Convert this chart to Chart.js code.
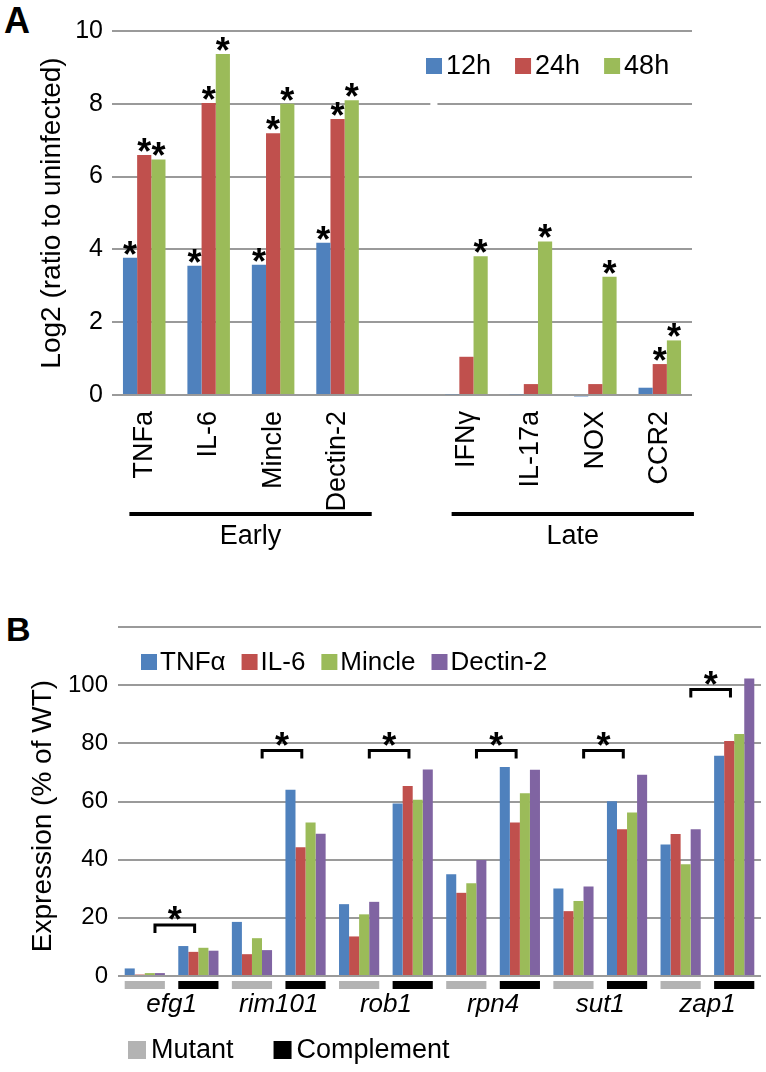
<!DOCTYPE html>
<html>
<head>
<meta charset="utf-8">
<script src="https://cdn.jsdelivr.net/npm/chart.js@4/dist/chart.umd.min.js"></script>
<style>
	body{margin:0;background:#fff;width:766px;height:1072px;position:relative;overflow:hidden;font-family:"Liberation Sans",Arial,sans-serif;}
	canvas{position:absolute;left:0;}
	#chartA{top:0;}
	#chartB{top:590px;}
	.letter{position:absolute;font-weight:bold;line-height:1;color:#000;}
</style>
</head>
<body>
<div class="letter" style="left:4px;top:3px;font-size:36px">A</div>
<div class="letter" style="left:6px;top:612px;font-size:34px">B</div>
<canvas id="chartA" width="766" height="565"></canvas>
<canvas id="chartB" width="766" height="482"></canvas>
<script>
const SANS = '"Liberation Sans", Arial, sans-serif';

// ---- panel A data
const genesA = ['TNFa', 'IL-6', 'Mincle', 'Dectin-2', '', 'IFNγ', 'IL-17a', 'NOX', 'CCR2'];
const timesA = ['12h', '24h', '48h'];
const val12h = [3.77, 3.55, 3.58, 4.18, null, 0.02, 0.02, -0.04, 0.2];
const val24h = [6.59, 8.02, 7.19, 7.58, null, 1.05, 0.3, 0.3, 0.85];
const val48h = [6.47, 9.37, 8.0, 8.1, null, 3.81, 4.22, 3.25, 1.5];
const star12h = [1, 1, 1, 1, 0, 0, 0, 0, 0];
const star24h = [1, 1, 1, 1, 0, 0, 0, 0, 1];
const star48h = [1, 1, 1, 1, 0, 1, 1, 1, 1];
const phaseNames = ['Early', 'Late'];
const phaseFirst = [0, 5];
const phaseLast = [3, 8];
const ticksA = [0, 2, 4, 6, 8, 10];

// ---- panel B data
const genesB = ['efg1', 'rim101', 'rob1', 'rpn4', 'sut1', 'zap1'];
const strainKinds = ['Mutant', 'Complement'];
const cytokinesB = ['TNFα', 'IL-6', 'Mincle', 'Dectin-2'];
const tnfB    = [2.6, 10.3, 18.6, 64.0, 24.7, 59.3, 35.0, 71.9, 30.1, 60.1, 45.2, 75.7];
const il6B    = [0.5, 8.3, 7.5, 44.3, 13.6, 65.3, 28.6, 52.8, 22.3, 50.5, 48.8, 80.8];
const mincleB = [1.0, 9.7, 13.0, 52.8, 21.2, 60.6, 31.9, 62.8, 25.8, 56.2, 38.4, 83.2];
const dectinB = [1.0, 8.7, 8.9, 48.9, 25.5, 71.0, 39.9, 70.9, 30.8, 69.2, 50.5, 102.3];
const bracketB = [17.5, 77.5, 77.5, 77.5, 77.5, 98.5];
const titleB = 'Expression (% of WT)';

const colA = ['#4F81BD', '#C0504D', '#9BBB59'];
const colB = ['#4F81BD', '#C0504D', '#9BBB59', '#8064A2'];
const kindCol = ['#b3b3b3', '#000000'];
const GRID = '#9a9a9a';

Chart.defaults.animation = false;
Chart.defaults.color = '#000';

function drawLegend(ctx, names, colors, x, y, size, font, gap, space){
	ctx.font = font;
	ctx.textAlign = 'left';
	ctx.textBaseline = 'middle';
	names.forEach((n, i) => {
		ctx.fillStyle = colors[i];
		ctx.fillRect(x, y - size / 2, size, size);
		x += size + gap;
		ctx.fillStyle = '#000';
		ctx.fillText(n, x, y + 1);
		x += ctx.measureText(n).width + space;
	});
}

function star(ctx, x, cy){
	// centre of the glyph sits about 0.57em over the baseline
	ctx.font = 'bold 36px ' + SANS;
	ctx.textAlign = 'center';
	ctx.textBaseline = 'alphabetic';
	ctx.fillStyle = '#000';
	ctx.fillText('*', x, cy + 20);
}

const decorA = {
	id: 'decorA',
	beforeDatasetsDraw(chart){
		const {ctx, scales: {x, y}} = chart;
		const w = x.getPixelForValue(1) - x.getPixelForValue(0);
		// small break in the 8 gridline
		ctx.save();
		ctx.fillStyle = '#fff';
		ctx.fillRect(x.getPixelForValue(4) + 0.44 * w, y.getPixelForValue(8) - 3, 0.11 * w, 6);
		ctx.restore();
	},
	afterDatasetsDraw(chart){
		const {ctx, chartArea, scales: {x}} = chart;
		ctx.save();
		[star12h, star24h, star48h].forEach((stars, d) => {
			const bars = chart.getDatasetMeta(d).data;
			stars.forEach((s, i) => {
				if(s) star(ctx, bars[i].x, bars[i].y - 11);
			});
		});

		const w = x.getPixelForValue(1) - x.getPixelForValue(0);
		phaseNames.forEach((name, k) => {
			const x0 = x.getPixelForValue(phaseFirst[k]) - 0.23 * w;
			const x1 = x.getPixelForValue(phaseLast[k]) + 0.53 * w;
			ctx.fillStyle = '#000';
			ctx.fillRect(x0, chartArea.bottom + 117, x1 - x0, 4);
			ctx.font = '27px ' + SANS;
			ctx.textAlign = 'center';
			ctx.textBaseline = 'middle';
			ctx.fillText(name, (x0 + x1) / 2, chartArea.bottom + 142);
		});

		drawLegend(ctx, timesA, colA, 426, 66, 16, '27px ' + SANS, 4, 24);
		ctx.restore();
	}
};

new Chart(document.getElementById('chartA'), {
	type: 'bar',
	data: {
		labels: genesA,
		datasets: timesA.map((t, i) => ({
			label: t,
			data: [val12h, val24h, val48h][i],
			backgroundColor: colA[i],
			categoryPercentage: 0.66,
			barPercentage: 1,
			clip: false,
		})),
	},
	options: {
		responsive: false,
		layout: {padding: {top: 31, right: 74, bottom: 0, left: 0}},
		plugins: {legend: {display: false}, tooltip: {enabled: false}},
		scales: {
			x: {
				grid: {display: false},
				border: {display: false},
				ticks: {font: {family: SANS, size: 27}, color: '#000', minRotation: 90, maxRotation: 90, autoSkip: false, padding: 8},
				afterFit: (s) => { s.height = 170; },
			},
			y: {
				min: 0,
				max: 10,
				afterBuildTicks: (s) => { s.ticks = ticksA.map(v => ({value: v})); },
				grid: {color: GRID, lineWidth: 2, drawTicks: false},
				border: {display: false},
				ticks: {font: {family: SANS, size: 25}, color: '#000', padding: 9},
				title: {display: true, text: 'Log2 (ratio to uninfected)', font: {family: SANS, size: 28}, color: '#000', padding: {top: 35, bottom: 0}},
				afterFit: (s) => { s.width = 112; },
			},
		},
	},
	plugins: [decorA],
});

// ---- panel B
const labelsB = [];
genesB.forEach(g => strainKinds.forEach(k => labelsB.push(g + ' ' + k)));

const decorB = {
	id: 'decorB',
	afterDatasetsDraw(chart){
		const {ctx, chartArea, scales: {x, y}} = chart;
		const w = x.getPixelForValue(1) - x.getPixelForValue(0);
		ctx.save();

		// axis title, centred lower than the plot (on the labelled part)
		ctx.save();
		ctx.translate(43, y.getPixelForValue(55));
		ctx.rotate(-Math.PI / 2);
		ctx.font = '28px ' + SANS;
		ctx.fillStyle = '#000';
		ctx.textAlign = 'center';
		ctx.textBaseline = 'middle';
		ctx.fillText(titleB, 0, 0);
		ctx.restore();

		// mutant / complement strips under the axis
		labelsB.forEach((l, i) => {
			ctx.fillStyle = kindCol[i % 2];
			ctx.fillRect(x.getPixelForValue(i) - 0.375 * w, chartArea.bottom + 5, 0.75 * w, 8);
		});

		genesB.forEach((g, k) => {
			const xm = x.getPixelForValue(2 * k);
			const xc = x.getPixelForValue(2 * k + 1);
			// gene name
			ctx.fillStyle = '#000';
			ctx.font = 'italic 26px ' + SANS;
			ctx.textAlign = 'center';
			ctx.textBaseline = 'middle';
			ctx.fillText(g, (xm + xc) / 2, chartArea.bottom + 29);
			// significance bracket
			const x0 = xm + 0.19 * w, x1 = xm + 0.93 * w;
			const yb = y.getPixelForValue(bracketB[k]);
			ctx.strokeStyle = '#000';
			ctx.lineWidth = 3;
			ctx.beginPath();
			ctx.moveTo(x0, yb + 8);
			ctx.lineTo(x0, yb);
			ctx.lineTo(x1, yb);
			ctx.lineTo(x1, yb + 8);
			ctx.stroke();
			star(ctx, (x0 + x1) / 2, yb - 13);
		});

		drawLegend(ctx, cytokinesB, colB, 141, chartArea.top + 35, 16, '26px ' + SANS, 3, 16);
		drawLegend(ctx, strainKinds, kindCol, 128, chartArea.bottom + 74, 18, '27px ' + SANS, 5, 40);
		ctx.restore();
	}
};

new Chart(document.getElementById('chartB'), {
	type: 'bar',
	data: {
		labels: labelsB,
		datasets: cytokinesB.map((c, i) => ({
			label: c,
			data: [tnfB, il6B, mincleB, dectinB][i],
			backgroundColor: colB[i],
			categoryPercentage: 0.75,
			barPercentage: 1,
		})),
	},
	options: {
		responsive: false,
		layout: {padding: {top: 37, right: 5, bottom: 0, left: 0}},
		plugins: {legend: {display: false}, tooltip: {enabled: false}},
		scales: {
			x: {
				grid: {display: false},
				border: {display: false},
				ticks: {display: false},
				afterFit: (s) => { s.height = 96; },
			},
			y: {
				min: 0,
				max: 120,
				ticks: {stepSize: 20, font: {family: SANS, size: 24}, color: '#000', padding: 10, callback: (v) => v > 100 ? '' : v},
				grid: {color: GRID, lineWidth: 2, drawTicks: false},
				border: {display: false},
				afterFit: (s) => { s.width = 118; },
			},
		},
	},
	plugins: [decorB],
});
</script>
</body>
</html>
